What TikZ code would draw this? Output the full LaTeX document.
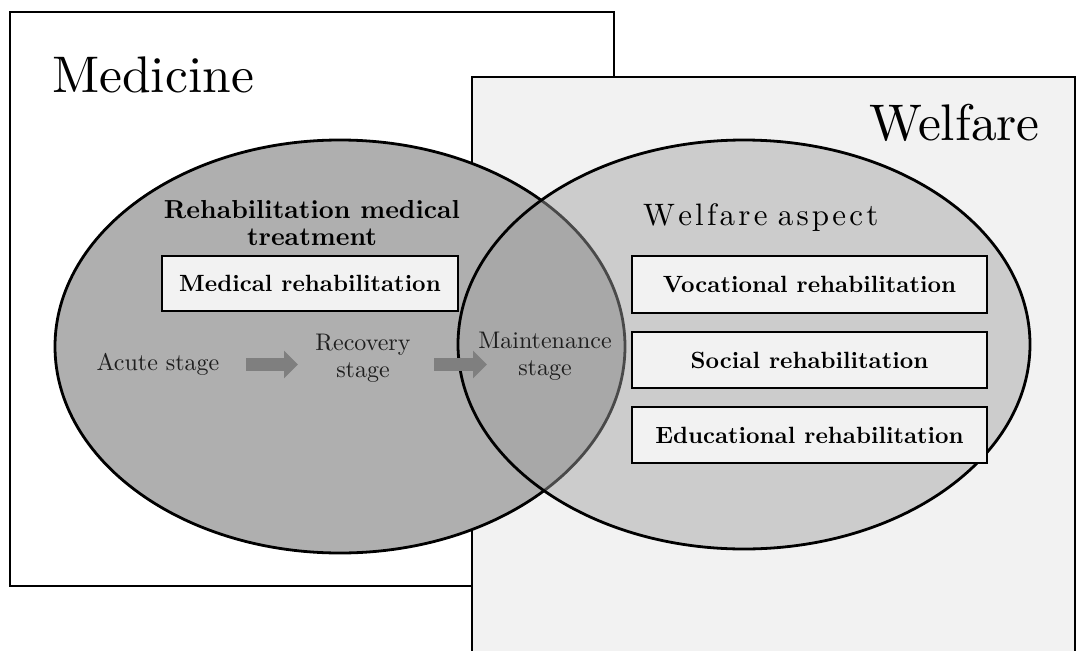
\documentclass[tikz,border=0pt]{standalone}
\usepackage{fontspec}
\setmainfont{lmroman10}[Extension=.otf, UprightFont=*-regular, BoldFont=*-bold]
\usetikzlibrary{arrows.meta,shapes.geometric}

\definecolor{panelfill}{HTML}{F2F2F2}
\definecolor{medfill}{HTML}{AFAFAF}
\definecolor{arrowgray}{HTML}{7F7F7F}
\definecolor{stagetext}{HTML}{1E1E1E}

% letter-spaced word: #1 = extra space after each letter
\makeatletter
\newcommand\spacedword[2]{\@tfor\sw@c:=#2\do{\sw@c\kern#1}\unkern}
\makeatother

\tikzset{
  frame/.style={draw=black, line width=2.8pt},
  venn/.style={ellipse, draw=black, line width=2.8pt, inner sep=0pt},
  labelbox/.style={draw=black, line width=2.6pt, fill=panelfill, inner sep=0pt,
    font=\bfseries\fontsize{23.5}{26}\selectfont},
  title/.style={inner sep=0pt, font=\fontsize{51.5}{56}\selectfont},
  heading/.style={inner sep=0pt, align=center, font=\bfseries\fontsize{26}{27}\selectfont},
  aspect/.style={inner sep=0pt, font=\fontsize{31}{34}\selectfont},
  stage/.style={inner sep=0pt, align=center, text=stagetext, font=\fontsize{24}{27}\selectfont},
  blockarrow/.style={draw=arrowgray, line width=13pt, -{Triangle[length=14pt,width=27pt]}}
}

\begin{document}
\begin{tikzpicture}[x=1pt,y=-1pt]
\useasboundingbox (0,0) rectangle (1077,651);

% outer fields
\node[frame, fill=white, minimum width=604pt, minimum height=574pt, inner sep=0pt]
  (medframe) at (312,299) {};
\node[frame, fill=panelfill, minimum width=603pt, minimum height=590pt, inner sep=0pt]
  (welframe) at (773.5,372) {};

% the two overlapping fields of rehabilitation
\node[venn, fill=medfill, minimum width=570pt, minimum height=413pt]
  (medell) at (340,346.5) {};
\node[venn, fill=black!37, fill opacity=0.46, minimum width=572pt, minimum height=409pt]
  (welell) at (744,344.5) {};

% titles
\node[title, anchor=base west] (medicine) at (52,92) {Medicine};
\node[title, anchor=base east] (welfare) at (1040,140) {Welfare};

% the base anchor of a two-line node sits on its last line
\node[heading, anchor=base] (rehabmed) at (312,245) {Rehabilitation medical\\treatment};
\node[aspect, anchor=base west] (welasp) at (643,225)
  {\spacedword{3.2pt}{Welfare} \spacedword{3.2pt}{aspect}};

% rehabilitation fields
\node[labelbox, minimum width=296pt, minimum height=55pt] (medrehab) at (310,283.5) {Medical rehabilitation};
\node[labelbox, minimum width=355pt, minimum height=57pt] (vocrehab) at (809.5,284.5) {Vocational rehabilitation};
\node[labelbox, minimum width=355pt, minimum height=56pt] (socrehab) at (809.5,360) {Social rehabilitation};
\node[labelbox, minimum width=355pt, minimum height=56pt] (edurehab) at (809.5,435) {Educational rehabilitation};

% stages of medical rehabilitation
\node[stage] (acute) at (158,364.5) {Acute stage};
\node[stage, anchor=base] (recovery) at (363,377.5) {Recovery\\stage};
\node[stage, anchor=base] (maintenance) at (545,375) {Maintenance\\stage};

\coordinate (a1s) at (246,364.5);
\coordinate (a1e) at (298,364.5);
\coordinate (a2s) at (434,364.5);
\coordinate (a2e) at (487,364.5);
\draw[blockarrow] (a1s) -- (a1e);
\draw[blockarrow] (a2s) -- (a2e);
\end{tikzpicture}
\end{document}
